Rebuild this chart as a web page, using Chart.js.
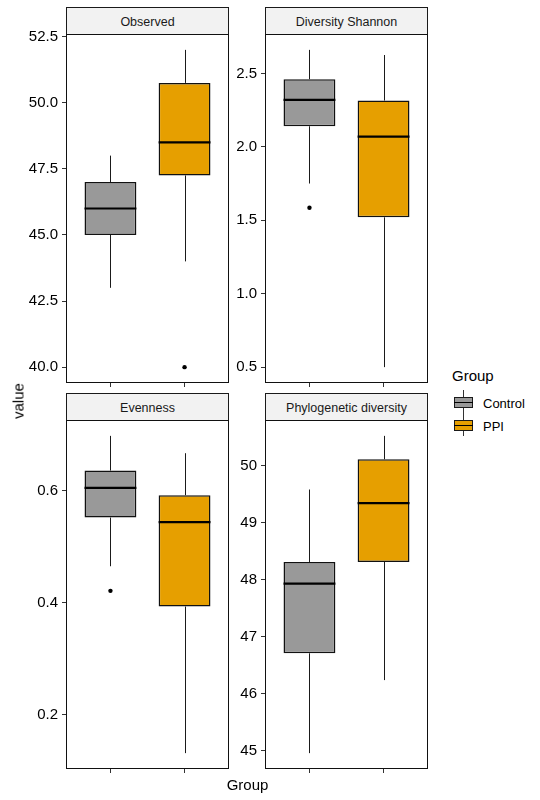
<!DOCTYPE html>
<html>
<head>
<meta charset="utf-8">
<script src="https://cdn.jsdelivr.net/npm/chart.js@4.4.0/dist/chart.umd.min.js"></script>
<style>
  body { margin: 0; width: 540px; height: 800px; background: #fff; position: relative; overflow: hidden;
         font-family: "Liberation Sans", Arial, sans-serif; }
  canvas { position: absolute; }
  .strip { position: absolute; box-sizing: border-box; background: #F2F2F2; border: 1px solid #1a1a1a;
           font-size: 12.5px; color: #1A1A1A; text-align: center; padding-top: 1.5px; }
  .txt { position: absolute; white-space: nowrap; color: #000; }
  .key { position: absolute; width: 19px; height: 23px; }
  .key .wh { position: absolute; left: 9px; top: 0; width: 1px; height: 23px; background: #333; }
  .key .bx { position: absolute; left: 0; top: 6.5px; width: 19px; height: 11px; box-sizing: border-box; border: 1px solid #1a1a1a; }
  .key .md { position: absolute; left: 0; top: 11.5px; width: 19px; height: 1px; background: #000; }
</style>
</head>
<body>
<script>
// Groups and fill colours
var groups = ['Control', 'PPI'];
var groupColors = ['#999999', '#E69F00'];

// Box stats per group: [lower whisker, Q1, median, Q3, upper whisker]
var observedStats = [[43, 45, 46, 47, 48], [44, 47.25, 48.5, 50.75, 52]];
var observedOutliers = [[], [40]];
var observedTicks = [40, 42.5, 45, 47.5, 50, 52.5];

var shannonStats = [[1.75, 2.14, 2.32, 2.46, 2.66], [0.5, 1.52, 2.07, 2.315, 2.625]];
var shannonOutliers = [[1.585], []];
var shannonTicks = [0.5, 1.0, 1.5, 2.0, 2.5];

var evennessStats = [[0.465, 0.552, 0.605, 0.636, 0.698], [0.131, 0.393, 0.544, 0.592, 0.667]];
var evennessOutliers = [[0.421], []];
var evennessTicks = [0.2, 0.4, 0.6];

var phyloStats = [[44.96, 46.71, 47.93, 48.31, 49.58], [46.24, 48.31, 49.34, 50.11, 50.52]];
var phyloOutliers = [[], []];
var phyloTicks = [45, 46, 47, 48, 49, 50];

var panels = [
  { title: 'Observed', stats: observedStats, outliers: observedOutliers, ticks: observedTicks, digits: 1, left: 66, top: 34 },
  { title: 'Diversity Shannon', stats: shannonStats, outliers: shannonOutliers, ticks: shannonTicks, digits: 1, left: 265, top: 34 },
  { title: 'Evenness', stats: evennessStats, outliers: evennessOutliers, ticks: evennessTicks, digits: 1, left: 66, top: 420 },
  { title: 'Phylogenetic diversity', stats: phyloStats, outliers: phyloOutliers, ticks: phyloTicks, digits: 0, left: 265, top: 420 }
];

var plotW = 163, plotH = 349, axisW = 66, padTop = 10, stripH = 28;

Chart.defaults.font.family = '"Liberation Sans", Arial, sans-serif';

// whiskers under the boxes, medians and panel frame on top
function makeBoxParts(stats) {
  return {
    id: 'boxParts',
    beforeDatasetsDraw: function(chart) {
      var ctx = chart.ctx, x = chart.scales.x, y = chart.scales.y;
      ctx.save();
      ctx.strokeStyle = '#1a1a1a';
      ctx.lineWidth = 1;
      stats.forEach(function(s, i) {
        var px = Math.round(x.getPixelForValue(i + 1)) + 0.5;
        ctx.beginPath();
        ctx.moveTo(px, y.getPixelForValue(s[0]));
        ctx.lineTo(px, y.getPixelForValue(s[1]));
        ctx.moveTo(px, y.getPixelForValue(s[3]));
        ctx.lineTo(px, y.getPixelForValue(s[4]));
        ctx.stroke();
      });
      ctx.restore();
    },
    afterDatasetsDraw: function(chart) {
      var ctx = chart.ctx, y = chart.scales.y;
      var bars = chart.getDatasetMeta(0).data;
      ctx.save();
      ctx.strokeStyle = '#000';
      ctx.lineWidth = 2.2;
      bars.forEach(function(bar, i) {
        var my = y.getPixelForValue(stats[i][2]);
        ctx.beginPath();
        ctx.moveTo(bar.x - bar.width / 2, my);
        ctx.lineTo(bar.x + bar.width / 2, my);
        ctx.stroke();
      });
      var a = chart.chartArea;
      ctx.strokeStyle = '#111';
      ctx.lineWidth = 1;
      ctx.strokeRect(a.left + 0.5, a.top + 0.5, a.right - a.left - 1, a.bottom - a.top - 1);
      ctx.restore();
    }
  };
}

panels.forEach(function(p) {
  // strip label
  var strip = document.createElement('div');
  strip.className = 'strip';
  strip.style.left = p.left + 'px';
  strip.style.top = (p.top - stripH + 1) + 'px';
  strip.style.width = plotW + 'px';
  strip.style.height = stripH + 'px';
  strip.style.lineHeight = (stripH - 4) + 'px';
  strip.textContent = p.title;
  document.body.appendChild(strip);

  var canvas = document.createElement('canvas');
  canvas.width = axisW + plotW + 4;
  canvas.height = padTop + plotH + 6;
  canvas.style.left = (p.left - axisW) + 'px';
  canvas.style.top = (p.top - padTop) + 'px';
  document.body.appendChild(canvas);

  // y limits like ggplot: data range plus 5% each side
  var all = [];
  p.stats.forEach(function(s) { all = all.concat(s); });
  p.outliers.forEach(function(o) { all = all.concat(o); });
  var lo = Math.min.apply(null, all), hi = Math.max.apply(null, all);
  var pad = (hi - lo) * 0.05;

  var outPts = [];
  p.outliers.forEach(function(o, i) {
    o.forEach(function(v) { outPts.push({ x: i + 1, y: v }); });
  });

  new Chart(canvas, {
    type: 'bar',
    data: {
      datasets: [{
        type: 'bar',
        data: p.stats.map(function(s, i) { return { x: i + 1, y: [s[1], s[3]] }; }),
        backgroundColor: groupColors,
        borderColor: '#111',
        borderWidth: 1.5,
        borderSkipped: false,
        barPercentage: 0.7,
        categoryPercentage: 1
      }, {
        type: 'scatter',
        data: outPts,
        pointRadius: 2.2,
        pointBackgroundColor: '#000',
        pointBorderWidth: 0
      }]
    },
    options: {
      responsive: false,
      animation: false,
      events: [],
      layout: { padding: { top: padTop, right: 4, left: 0, bottom: 0 } },
      plugins: { legend: { display: false }, tooltip: { enabled: false } },
      scales: {
        x: {
          type: 'linear', min: 0.4, max: 2.6, offset: false,
          afterBuildTicks: function(s) { s.ticks = [{ value: 1 }, { value: 2 }]; },
          ticks: { display: false },
          grid: { offset: false, drawOnChartArea: false, drawTicks: true, tickLength: 4, color: '#333', lineWidth: 1 },
          border: { display: false },
          afterFit: function(s) { s.height = 6; s.paddingLeft = 0; s.paddingRight = 0; }
        },
        y: {
          type: 'linear', min: lo - pad, max: hi + pad,
          afterBuildTicks: function(s) { s.ticks = p.ticks.map(function(v) { return { value: v }; }); },
          ticks: {
            color: '#000', font: { size: 15 }, padding: 4, autoSkip: false,
            callback: function(v) { return Number(v).toFixed(p.digits); }
          },
          grid: { drawOnChartArea: false, drawTicks: true, tickLength: 4, color: '#333', lineWidth: 1 },
          border: { display: false },
          afterFit: function(s) { s.width = axisW; s.paddingTop = 0; s.paddingBottom = 0; }
        }
      }
    },
    plugins: [makeBoxParts(p.stats)]
  });
});

// axis titles
function addText(txt, css) {
  var d = document.createElement('div');
  d.className = 'txt';
  d.textContent = txt;
  for (var k in css) d.style[k] = css[k];
  document.body.appendChild(d);
  return d;
}
addText('Group', { left: '247.5px', top: '776.5px', fontSize: '15px', lineHeight: '15px', transform: 'translateX(-50%)' });
addText('value', { left: '17.5px', top: '401px', fontSize: '15px', lineHeight: '15px', transform: 'translate(-50%, -50%) rotate(-90deg)' });

// legend
addText('Group', { left: '452px', top: '368.3px', fontSize: '15px', lineHeight: '15px' });
groups.forEach(function(g, i) {
  var rowTop = 390 + i * 23;
  var key = document.createElement('div');
  key.className = 'key';
  key.style.left = '454px';
  key.style.top = rowTop + 'px';
  key.innerHTML = '<div class="wh"></div><div class="bx" style="background:' + groupColors[i] + '"></div><div class="md"></div>';
  document.body.appendChild(key);
  addText(g, { left: '483px', top: (rowTop + 6.7) + 'px', fontSize: '13px', lineHeight: '13px' });
});
</script>
</body>
</html>
